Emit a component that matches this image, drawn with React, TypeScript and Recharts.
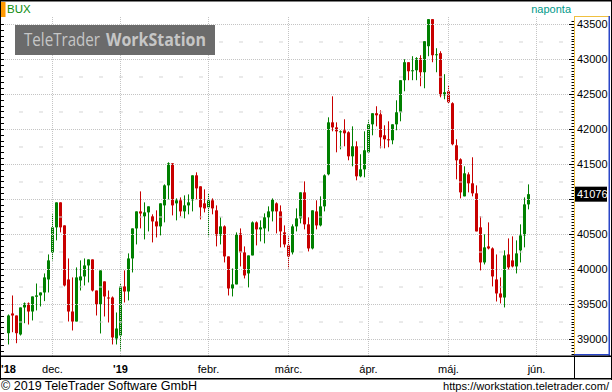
import React from "react";
import { Bar, ComposedChart, ReferenceLine, XAxis, YAxis } from "recharts";

// BUX daily candles, 16 Nov 2018 .. 30 May 2019 (trading-day index 1..131)
const opens = [
  39090, 39372, 39343, 39072, 39458, 39515, 39400, 39610, 39630, 39672,
  39858, 40244, 40602, 40959, 40630, 39858, 39400, 39257, 39844, 39901,
  40058, 40144, 39700, 39500, 39830, 39600, 39600, 39014, 39057, 39758,
  39686, 40158, 40587, 40830, 40760, 40816, 40759, 40687, 40616, 40916,
  41202, 41517, 40945, 40988, 40830, 40916, 40988, 41345, 41188, 40945,
  40888, 40988, 40845, 40487, 40616, 40187, 39729, 39787, 40516, 40244,
  39944, 40201, 40673, 40573, 40587, 40745, 40830, 40945, 40830, 40530,
  40344, 40244, 40616, 40730, 41102, 40645, 40301, 40830, 40630, 40902,
  41360, 42102, 42030, 41960, 41988, 41960, 41617, 41760, 41331, 41431,
  41674, 42074, 42232, 42217, 41917, 41860, 41846, 42074, 42246, 42704,
  42961, 42832, 42846, 43018, 42818, 43190, 43576, 43061, 43090, 42489,
  42546, 42375, 41774, 41574, 41045, 41359, 41231, 41088, 40602, 40101,
  40330, 40301, 39858, 39658, 39600, 40215, 40130, 40044, 40273, 40487, 40930,
];
const highs = [
  39358, 39629, 39343, 39458, 39529, 39529, 39615, 39800, 39672, 39944,
  40215, 40788, 40959, 40959, 40630, 40158, 39887, 40030, 40130, 40158,
  40144, 40144, 39700, 39987, 39830, 39700, 39615, 39386, 39800, 39987,
  40230, 40587, 40830, 41116, 40959, 40902, 40788, 40845, 40945, 41216,
  41531, 41517, 41016, 41030, 41059, 41073, 41345, 41388, 41188, 41145,
  41088, 41016, 40916, 40745, 40630, 40187, 40015, 40530, 40587, 40330,
  40201, 40687, 40687, 40702, 40802, 40902, 41016, 40959, 40916, 40630,
  40473, 40645, 40873, 41102, 41259, 40745, 40845, 40988, 41045, 41359,
  42174, 42474, 42102, 41988, 42146, 41974, 42045, 41831, 41646, 41974,
  42131, 42232, 42332, 42274, 42060, 42117, 42074, 42417, 42704, 43004,
  42961, 43047, 43033, 43061, 43261, 43576, 43576, 43161, 43118, 42790,
  42632, 42389, 41860, 41588, 41474, 41388, 41603, 41202, 40759, 40502,
  40673, 40316, 40215, 39887, 40273, 40444, 40473, 40416, 40645, 41030, 41216,
];
const lows = [
  38929, 39104, 38947, 39057, 39233, 39214, 39272, 39415, 39472, 39548,
  39672, 40130, 40416, 40530, 39758, 39257, 39129, 39257, 39700, 39772,
  39815, 39686, 39343, 39086, 39329, 39243, 38929, 38929, 38843, 39529,
  39558, 39958, 40358, 40587, 40430, 40544, 40387, 40458, 40487, 40673,
  41002, 40773, 40702, 40759, 40730, 40788, 40830, 41002, 40716, 40816,
  40473, 40788, 40330, 40358, 40101, 39629, 39615, 39787, 40044, 39872,
  39744, 40201, 40344, 40401, 40373, 40544, 40687, 40516, 40316, 40316,
  40015, 40215, 40544, 40659, 40573, 40258, 40287, 40573, 40616, 40830,
  41345, 41974, 41674, 41717, 41760, 41560, 41474, 41274, 41317, 41317,
  41674, 41917, 42045, 41731, 41731, 41746, 41789, 41989, 42117, 42546,
  42704, 42704, 42704, 42618, 42589, 43047, 42961, 42818, 42460, 42432,
  42375, 41774, 41288, 41016, 41045, 41102, 41045, 40544, 39987, 40072,
  40287, 39758, 39543, 39515, 39458, 40001, 40030, 39944, 40101, 40316, 40859,
];
const closes = [
  39343, 39343, 39090, 39458, 39515, 39400, 39615, 39630, 39672, 39887,
  40130, 40602, 40959, 40602, 39772, 39400, 39257, 39887, 39901, 40058,
  40144, 39700, 39500, 39987, 39615, 39586, 39029, 39157, 39758, 39686,
  40158, 40587, 40830, 40800, 40816, 40902, 40687, 40616, 40945, 41202,
  41517, 40916, 40988, 40830, 40916, 40959, 41345, 41159, 40888, 40873,
  40988, 40873, 40487, 40616, 40187, 39729, 39787, 40502, 40244, 39915,
  40201, 40673, 40573, 40602, 40745, 40830, 41002, 40830, 40544, 40358,
  40187, 40616, 40730, 41102, 40645, 40301, 40845, 40630, 40902, 41345,
  42102, 42030, 41974, 41974, 41946, 41617, 41760, 41331, 41431, 41703,
  42074, 42232, 42203, 41888, 41860, 41846, 42074, 42246, 42704, 42961,
  42832, 42846, 43018, 42818, 43261, 43576, 43061, 43075, 42489, 42532,
  42389, 41789, 41560, 41102, 41374, 41231, 41088, 40544, 40101, 40316,
  40301, 39901, 39658, 39600, 40201, 40030, 40044, 40230, 40487, 40930, 41076,
];

// first trading day of each month (index), and its label
const monthTicks = [1, 12, 29, 51, 71, 91, 111, 133];
const monthLabels = ["'18", "dec.", "'19", "febr.", "márc.", "ápr.", "máj.", "jún."];
const yearTicks = [1, 29];

const priceTicks = [39000, 39500, 40000, 40500, 41000, 41500, 42000, 42500, 43000, 43500];
const midTicks = [39250, 39750, 40250, 40750, 41250, 41750, 42250, 42750, 43250];
const lastPrice = 41076;

const GREEN = "#008000";
const RED = "#c80000";
const GRID = "#c4c4c4";
const FONT = "'Liberation Sans', Arial, sans-serif";

const Y_DOMAIN: [number, number] = [38764.3, 43621.4];
const X_DOMAIN: [number, number] = [-0.125, 142.375];

const data = opens.map((o, k) => ({
  day: k + 1,
  open: o,
  high: highs[k],
  low: lows[k],
  close: closes[k],
  range: [lows[k], highs[k]],
}));

// minor ticks of the axes (12 per 500 on the right, 6 per 500 on the left)
const rightTicks: number[] = [];
for (let k = -5; k <= 109; k++) rightTicks.push(39000 + (k * 500) / 12);
const leftTicks: number[] = [];
for (let k = -2; k <= 54; k++) leftTicks.push(39000 + (k * 500) / 6);

const isMajor = (v: number) => Math.abs(v / 500 - Math.round(v / 500)) < 1e-6;

function Candle(props: any) {
  const { x, y, width, height, payload } = props;
  if (!payload) return null;
  const { open, close, high, low } = payload;
  const color = close >= open ? GREEN : RED;
  const ratio = high === low ? 0 : height / (high - low);
  const cx = Math.floor(x + width / 2) + 0.5;
  const top = y + (high - Math.max(open, close)) * ratio;
  const bot = y + (high - Math.min(open, close)) * ratio;
  return (
    <g>
      <line x1={cx} x2={cx} y1={y} y2={y + height} stroke={color} strokeWidth={1} />
      <rect x={cx - 1.5} y={top} width={3} height={Math.max(1, bot - top)} fill={color} />
    </g>
  );
}

function RightTick(props: any) {
  const { x, y, payload } = props;
  const v = payload.value;
  const major = isMajor(v);
  // the last-price tag covers the label next to it
  const hidden = Math.abs(v - lastPrice) < 160;
  const yy = Math.round(y - 0.5) + 0.5;
  return (
    <g>
      <line x1={x - (major ? 5 : 2.5)} x2={x} y1={yy} y2={yy} stroke="#000" strokeWidth={1} />
      {major && !hidden && (
        <text x={x + 3} y={y} dy="0.36em" fontSize={11} fontFamily={FONT} fill="#000">
          {Math.round(v)}
        </text>
      )}
    </g>
  );
}

function LeftTick(props: any) {
  const { x, y, payload } = props;
  const major = isMajor(payload.value);
  const yy = Math.round(y - 0.5) + 0.5;
  return <line x1={major ? x - 4 : x - 3} x2={x} y1={yy} y2={yy} stroke="#000" strokeWidth={1} />;
}

function MonthTick(props: any) {
  const { x, y, payload } = props;
  const k = monthTicks.indexOf(payload.value);
  if (k < 0) return null;
  const bold = yearTicks.includes(payload.value);
  return (
    <text x={x} y={y + 17} textAnchor="middle" fontSize={11} fontFamily={FONT} fontWeight={bold ? 700 : 400} fill="#000">
      {monthLabels[k]}
    </text>
  );
}

function PriceTag(props: any) {
  const vb = props.viewBox || {};
  const x = vb.x + vb.width + 1;
  const y = vb.y;
  return (
    <g>
      <rect x={x} y={y - 7.5} width={32} height={15} fill="#000" />
      <text x={x + 2} y={y} dy="0.36em" fontSize={11} fontFamily={FONT} fill="#fff">
        {lastPrice}
      </text>
    </g>
  );
}

function Frame() {
  return (
    <svg width={612} height={392} style={{ position: "absolute", left: 0, top: 0, pointerEvents: "none" }}>
      {/* header */}
      <rect x={0} y={0} width={612} height={1.5} fill="#000" />
      <rect x={0} y={2} width={5.5} height={15} fill="#ff9900" />
      <text x={7} y={12.5} fontSize={11.5} fontFamily={FONT} fill="#0a8a0a">BUX</text>
      <text x={571} y={12.5} textAnchor="end" fontSize={11} fontFamily={FONT} fill="#00998a">naponta</text>
      {/* watermark */}
      <rect x={15} y={25} width={200} height={30} fill="#6b6b6b" />
      <text x={24} y={45.5} fontSize={18} fontFamily="'Open Sans', sans-serif" fill="#c6c6c6" textLength={76} lengthAdjust="spacingAndGlyphs">TeleTrader</text>
      <text x={106} y={45.5} fontSize={18} fontWeight={700} fontFamily="'Open Sans', sans-serif" fill="#c6c6c6" textLength={100} lengthAdjust="spacingAndGlyphs">WorkStation</text>
      {/* outer borders */}
      <rect x={0} y={0} width={1} height={380} fill="#000" />
      <rect x={611} y={0} width={1} height={380} fill="#000" />
      {/* price axis box */}
      <rect x={574} y={16} width={35} height={1} fill="#f0c040" />
      <rect x={574} y={16} width={1} height={340} fill="#f0c040" />
      <rect x={608.5} y={16} width={1.5} height={340} fill="#2a46c8" />
      <rect x={574} y={354} width={36} height={1.5} fill="#2a46c8" />
      {/* time axis row */}
      <rect x={0} y={355.5} width={612} height={1.5} fill="#000" />
      <rect x={0} y={378} width={612} height={1.5} fill="#000" />
      <rect x={574} y={356} width={1} height={23} fill="#000" />
      {/* footer */}
      <text x={1} y={390} fontSize={12.5} fontFamily={FONT} fill="#000" textLength={196} lengthAdjust="spacingAndGlyphs">© 2019 TeleTrader Software GmbH</text>
      <text x={443} y={390} fontSize={11} fontFamily={FONT} fill="#000" textLength={166} lengthAdjust="spacingAndGlyphs">https://workstation.teletrader.com/</text>
    </svg>
  );
}

export default function App() {
  return (
    <div style={{ position: "absolute", left: 0, top: 0, width: 612, height: 392, background: "#fff" }}>
      <ComposedChart width={612} height={392} data={data} margin={{ top: 16, right: 0, bottom: 13, left: 0 }}>
        <XAxis
          dataKey="day"
          type="number"
          domain={X_DOMAIN}
          allowDataOverflow
          ticks={monthTicks}
          interval={0}
          height={23}
          axisLine={false}
          tickLine={false}
          tickSize={0}
          tickMargin={0}
          tick={<MonthTick />}
        />
        <YAxis
          yAxisId="l"
          orientation="left"
          width={4}
          type="number"
          domain={Y_DOMAIN}
          allowDataOverflow
          ticks={leftTicks}
          interval={0}
          axisLine={false}
          tickLine={false}
          tickSize={0}
          tickMargin={0}
          tick={<LeftTick />}
        />
        <YAxis
          yAxisId="r"
          orientation="right"
          width={38}
          type="number"
          domain={Y_DOMAIN}
          allowDataOverflow
          ticks={rightTicks}
          interval={0}
          axisLine={false}
          tickLine={false}
          tickSize={0}
          tickMargin={0}
          tick={<RightTick />}
        />
        {priceTicks.map((v) => (
          <ReferenceLine key={"h" + v} yAxisId="r" y={v} stroke={GRID} strokeDasharray="1 1" />
        ))}
        {midTicks.map((v) => (
          <ReferenceLine key={"m" + v} yAxisId="r" y={v} stroke="#d4d4d4" strokeDasharray="4 16" strokeDashoffset={9} />
        ))}
        {monthTicks.slice(1).map((m) => (
          <ReferenceLine key={"v" + m} yAxisId="r" x={m} stroke={GRID} strokeDasharray="1 1" />
        ))}
        <Bar yAxisId="r" dataKey="range" barSize={3} shape={<Candle />} isAnimationActive={false} />
        <ReferenceLine yAxisId="r" y={lastPrice} stroke="none" label={<PriceTag />} />
      </ComposedChart>
      <Frame />
    </div>
  );
}
